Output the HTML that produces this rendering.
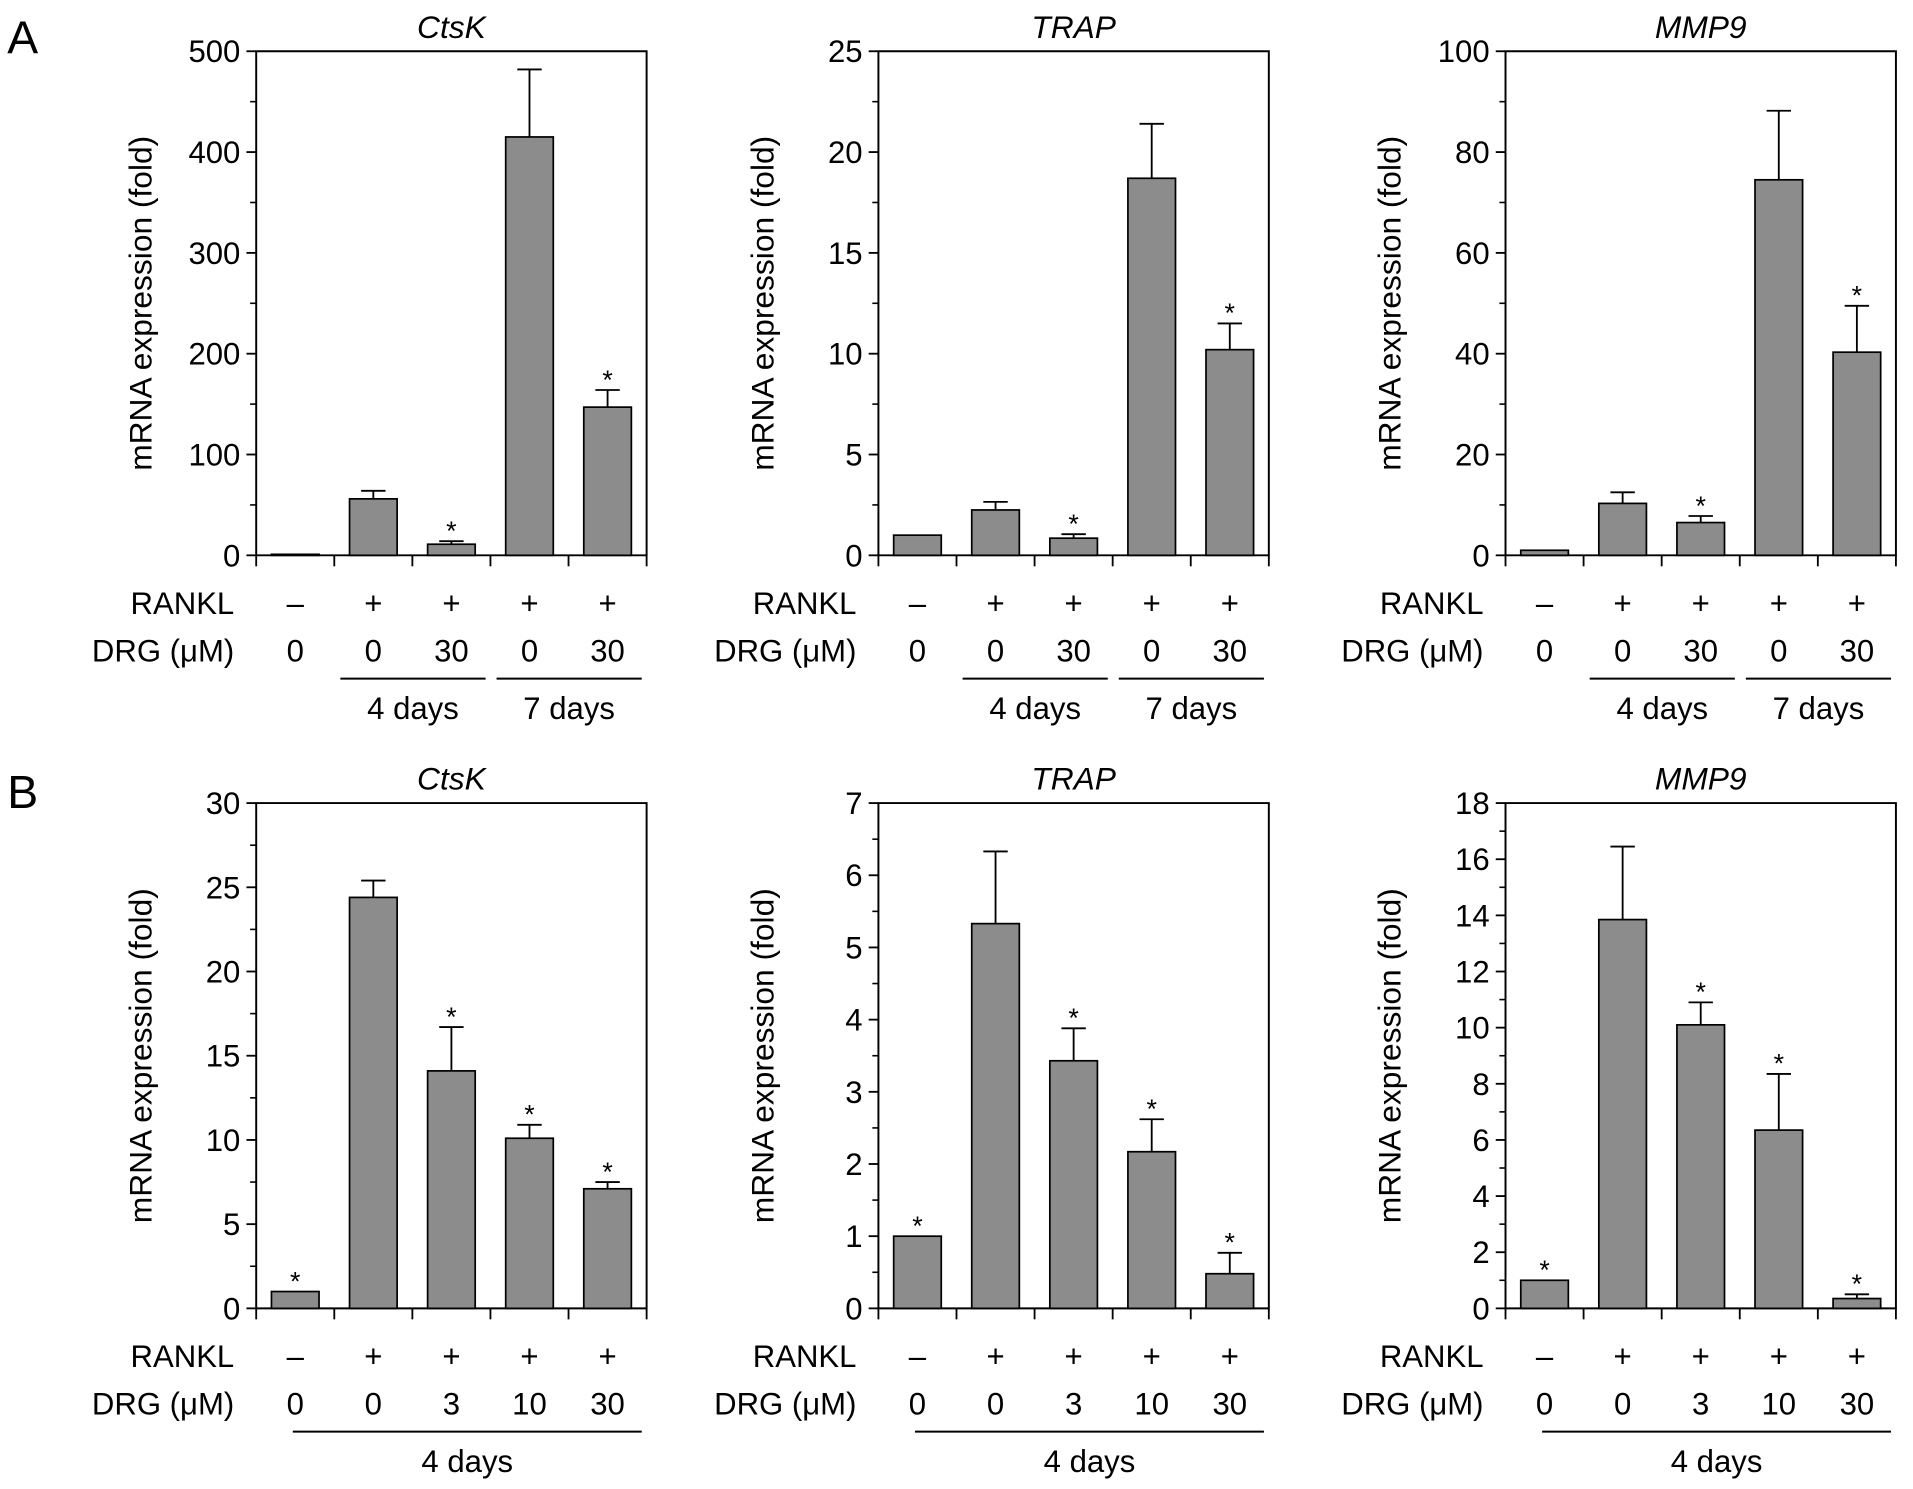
<!DOCTYPE html>
<html><head><meta charset="utf-8"><style>
html,body{margin:0;padding:0;background:#fff;}
svg{display:block;font-family:"Liberation Sans",Arial,sans-serif;}
</style></head><body>
<svg id="fig" width="1913" height="1489" viewBox="0 0 1568 1220" preserveAspectRatio="none" xmlns="http://www.w3.org/2000/svg">
<text x="6" y="44" font-size="38">A</text>
<text x="6" y="662" font-size="38">B</text>
</svg>
<script>
// Panel A
const aCtskValues = [1, 56, 11, 415, 147];
const aCtskErrors = [0, 8, 3, 67, 17];
const aCtskStars = [false, false, true, false, true];
const aCtskTicks = [0, 100, 200, 300, 400, 500];
const aTrapValues = [1, 2.25, 0.85, 18.7, 10.2];
const aTrapErrors = [0, 0.4, 0.2, 2.7, 1.3];
const aTrapStars = [false, false, true, false, true];
const aTrapTicks = [0, 5, 10, 15, 20, 25];
const aMmp9Values = [1, 10.3, 6.5, 74.5, 40.3];
const aMmp9Errors = [0, 2.2, 1.3, 13.7, 9.2];
const aMmp9Stars = [false, false, true, false, true];
const aMmp9Ticks = [0, 20, 40, 60, 80, 100];
const aRankl = ["\u2013", "+", "+", "+", "+"];
const aDrg = ["0", "0", "30", "0", "30"];
// Panel B
const bCtskValues = [1, 24.4, 14.1, 10.1, 7.1];
const bCtskErrors = [0, 1.0, 2.6, 0.8, 0.4];
const bCtskTicks = [0, 5, 10, 15, 20, 25, 30];
const bTrapValues = [1, 5.33, 3.43, 2.17, 0.48];
const bTrapErrors = [0, 1.0, 0.45, 0.45, 0.29];
const bTrapTicks = [0, 1, 2, 3, 4, 5, 6, 7];
const bMmp9Values = [1, 13.85, 10.1, 6.35, 0.35];
const bMmp9Errors = [0, 2.6, 0.8, 2.0, 0.15];
const bMmp9Ticks = [0, 2, 4, 6, 8, 10, 12, 14, 16, 18];
const bStars = [true, false, true, true, true];
const bRankl = ["\u2013", "+", "+", "+", "+"];
const bDrg = ["0", "0", "3", "10", "30"];

const svg = document.getElementById('fig');
const NS = 'http://www.w3.org/2000/svg';
function mk(tag, attrs, parent) {
  const e = document.createElementNS(NS, tag);
  for (const k in attrs) e.setAttribute(k, attrs[k]);
  (parent || svg).appendChild(e);
  return e;
}

function chart(id, left, top, zero, title, values, errors, stars, ticks, rankl, drg, panel) {
  const g = mk('g', {});
  
  
  const slot = 64, right = left + slot * 5;
  const ymax = ticks[ticks.length - 1];
  const y = v => zero - (v / ymax) * (zero - top);
  const x = i => left + slot * i + slot / 2;
  const t = mk('text', {x: (left + right) / 2, y: top - 11, 'font-size': 26, 'font-style': 'italic', 'text-anchor': 'middle'}, g);
  t.textContent = title;
  
  
  const yl = mk('text', {x: 0, y: 0, 'font-size': 26, 'text-anchor': 'middle', transform: `translate(${left - 86},${(top + zero) / 2}) rotate(-90)`}, g);
  yl.textContent = 'mRNA expression (fold)';
  
  
  const fr = mk('path', {d: `M${left},${zero} L${left},${top} L${right},${top} L${right},${zero} Z`, fill: 'none', stroke: '#000', 'stroke-width': 1.6}, g);
  
  
  const step = ticks[1] - ticks[0];
  for (let i = 0; i < ticks.length; i++) {
    const v = ticks[i];
    mk('line', {x1: left - 8, x2: left, y1: y(v), y2: y(v), stroke: '#000', 'stroke-width': 1.5}, g);
    if (i < ticks.length - 1) mk('line', {x1: left - 5, x2: left, y1: y(v + step / 2), y2: y(v + step / 2), stroke: '#000', 'stroke-width': 1.3}, g);
    const tl = mk('text', {x: left - 13, y: y(v) + 9, 'font-size': 25.5, 'text-anchor': 'end'}, g);
    tl.textContent = String(v);
    
    
  }
  for (let i = 0; i <= 5; i++) mk('line', {x1: left + slot * i, x2: left + slot * i, y1: zero, y2: zero + 9, stroke: '#000', 'stroke-width': 1.5}, g);
  const bw = 39;
  for (let i = 0; i < values.length; i++) {
    const b = mk('rect', {x: x(i) - bw / 2, y: y(values[i]), width: bw, height: zero - y(values[i]), fill: '#8c8c8c', stroke: '#000', 'stroke-width': 1.4}, g);
    
    
    if (errors[i] > 0) {
      const et = y(values[i] + errors[i]);
      const eb = mk('path', {d: `M${x(i)},${y(values[i])} L${x(i)},${et} M${x(i) - 10},${et} L${x(i) + 10},${et}`, stroke: '#000', 'stroke-width': 1.5, fill: 'none'}, g);
      
      
    }
    if (stars[i]) {
      const st = mk('text', {x: x(i), y: y(values[i] + errors[i]) - 1, 'font-size': 22, 'text-anchor': 'middle'}, g);
      st.textContent = '*';
      
      
    }
    const r = mk('text', {x: x(i), y: zero + 48, 'font-size': 25.5, 'text-anchor': 'middle'}, g);
    r.textContent = rankl[i];
    
    
    const d = mk('text', {x: x(i), y: zero + 87, 'font-size': 25.5, 'text-anchor': 'middle'}, g);
    d.textContent = drg[i];
    
    
  }
  const rl = mk('text', {x: left - 18, y: zero + 48, 'font-size': 25.5, 'text-anchor': 'end'}, g);
  rl.textContent = 'RANKL';
  
  
  const dl = mk('text', {x: left - 18, y: zero + 87, 'font-size': 25.5, 'text-anchor': 'end'}, g);
  dl.textContent = 'DRG (\u03bcM)';
  
  
  const groups = panel === 'A' ? [[1, 2, '4 days'], [3, 4, '7 days']] : [[0, 4, '4 days']];
  for (const gr of groups) {
    const x1 = x(gr[0]) - (panel === 'A' ? 27 : 2), x2 = x(gr[1]) + 28;
    mk('line', {x1: x1, x2: x2, y1: zero + 101, y2: zero + 101, stroke: '#000', 'stroke-width': 1.6}, g);
    const dt = mk('text', {x: (x1 + x2) / 2, y: zero + 134, 'font-size': 25.5, 'text-anchor': 'middle'}, g);
    dt.textContent = gr[2];
    
    
  }
}
chart('chart-a-ctsk', 210, 42, 455, 'CtsK', aCtskValues, aCtskErrors, aCtskStars, aCtskTicks, aRankl, aDrg, 'A');
chart('chart-a-trap', 720, 42, 455, 'TRAP', aTrapValues, aTrapErrors, aTrapStars, aTrapTicks, aRankl, aDrg, 'A');
chart('chart-a-mmp9', 1234, 42, 455, 'MMP9', aMmp9Values, aMmp9Errors, aMmp9Stars, aMmp9Ticks, aRankl, aDrg, 'A');
chart('chart-b-ctsk', 210, 658, 1072, 'CtsK', bCtskValues, bCtskErrors, bStars, bCtskTicks, bRankl, bDrg, 'B');
chart('chart-b-trap', 720, 658, 1072, 'TRAP', bTrapValues, bTrapErrors, bStars, bTrapTicks, bRankl, bDrg, 'B');
chart('chart-b-mmp9', 1234, 658, 1072, 'MMP9', bMmp9Values, bMmp9Errors, bStars, bMmp9Ticks, bRankl, bDrg, 'B');
</script>
</body></html>
